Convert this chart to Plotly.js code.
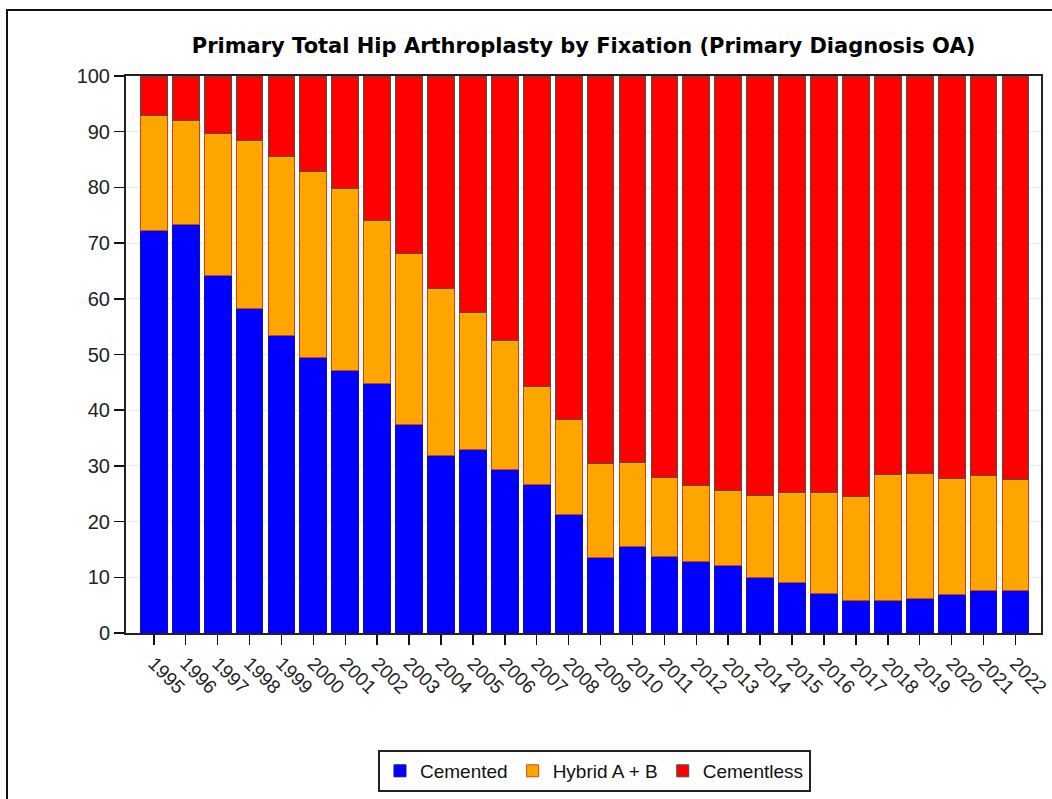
<!DOCTYPE html>
<html>
<head>
<meta charset="utf-8">
<script src="https://cdn.plot.ly/plotly-3.0.1.min.js"></script>
<style>
  html, body { margin: 0; padding: 0; overflow: hidden; background: #fff; }
  #chart { position: absolute; left: 0; top: 0; width: 1052px; height: 799px; }
  #frame { position: absolute; left: 6px; top: 9px; width: 1200px; height: 1000px;
           border: 2px solid #111; pointer-events: none; }
</style>
</head>
<body>
<div id="chart"></div>
<div id="frame"></div>
<script>
const years = ['1995', '1996', '1997', '1998', '1999', '2000', '2001', '2002', '2003', '2004',
               '2005', '2006', '2007', '2008', '2009', '2010', '2011', '2012', '2013', '2014',
               '2015', '2016', '2017', '2018', '2019', '2020', '2021', '2022'];

// percentages per year
const cemented = [72.3, 73.4, 64.2, 58.2, 53.4, 49.4, 47.1, 44.8, 37.4, 31.8,
                  33.0, 29.4, 26.6, 21.2, 13.6, 15.6, 13.8, 12.9, 12.2, 9.9,
                  9.0, 7.1, 5.8, 5.9, 6.2, 6.9, 7.6, 7.6];
const hybrid = [20.6, 18.7, 25.5, 30.2, 32.2, 33.4, 32.7, 29.3, 30.7, 30.0,
                24.5, 23.1, 17.7, 17.2, 16.8, 15.0, 14.2, 13.6, 13.3, 14.7,
                16.2, 18.1, 18.7, 22.6, 22.4, 20.8, 20.7, 20.0];
const cementless = [7.1, 7.9, 10.3, 11.6, 14.4, 17.2, 20.2, 25.9, 31.9, 38.2,
                    42.5, 47.5, 55.7, 61.6, 69.6, 69.4, 72.0, 73.5, 74.5, 75.4,
                    74.8, 74.8, 75.5, 71.5, 71.4, 72.3, 71.7, 72.4];

const yTicks = [0, 10, 20, 30, 40, 50, 60, 70, 80, 90, 100];

const font = 'Liberation Sans, Arial, sans-serif';

const traces = [
    {
        x: years, y: cemented, type: 'bar', name: 'Cemented', width: 0.84,
        marker: { color: '#0000ff', line: { color: '#1010b0', width: 1 } }
    },
    {
        x: years, y: hybrid, type: 'bar', name: 'Hybrid A + B', width: 0.84,
        marker: { color: '#ffa500', line: { color: '#c8461e', width: 1 } }
    },
    {
        x: years, y: cementless, type: 'bar', name: 'Cementless', width: 0.84,
        marker: { color: '#ff0000', line: { color: '#4a5048', width: 1 } }
    }
];

const layout = {
    width: 1052,
    height: 799,
    barmode: 'stack',
    paper_bgcolor: '#fff',
    plot_bgcolor: '#fff',
    font: { family: font, color: '#111', size: 20 },
    margin: { l: 126, r: 11, t: 76, b: 166, autoexpand: false },
    title: {
        text: '<b>Primary Total Hip Arthroplasty by Fixation (Primary Diagnosis OA)</b>',
        font: { family: 'DejaVu Sans, sans-serif', size: 21, color: '#000' },
        xref: 'paper', x: 0.5, xanchor: 'center',
        yref: 'container', y: 0.943, yanchor: 'middle'
    },
    xaxis: {
        type: 'category',
        range: [-0.87, 27.8],
        tickangle: 45,
        ticks: 'outside', ticklen: 10, tickwidth: 1.5, tickcolor: '#111',
        tickfont: { size: 19, color: '#222' },
        showline: true, linecolor: '#222', linewidth: 2, mirror: true,
        showgrid: false, zeroline: false
    },
    yaxis: {
        range: [0, 100],
        tickvals: yTicks,
        ticks: 'outside', ticklen: 10, tickwidth: 1.5, tickcolor: '#111',
        tickfont: { size: 20, color: '#222' },
        showline: true, linecolor: '#222', linewidth: 2, mirror: true,
        showgrid: true, gridcolor: '#e8e8e8', gridwidth: 1,
        zeroline: false
    },
    legend: {
        orientation: 'h',
        x: 0.512, xanchor: 'center',
        y: -0.21, yanchor: 'top',
        bgcolor: '#fff',
        bordercolor: '#222', borderwidth: 2,
        font: { size: 19, color: '#111' },
        itemwidth: 30,
        traceorder: 'normal'
    },
    showlegend: true
};

Plotly.newPlot('chart', traces, layout, { displayModeBar: false, staticPlot: true });
</script>
</body>
</html>
